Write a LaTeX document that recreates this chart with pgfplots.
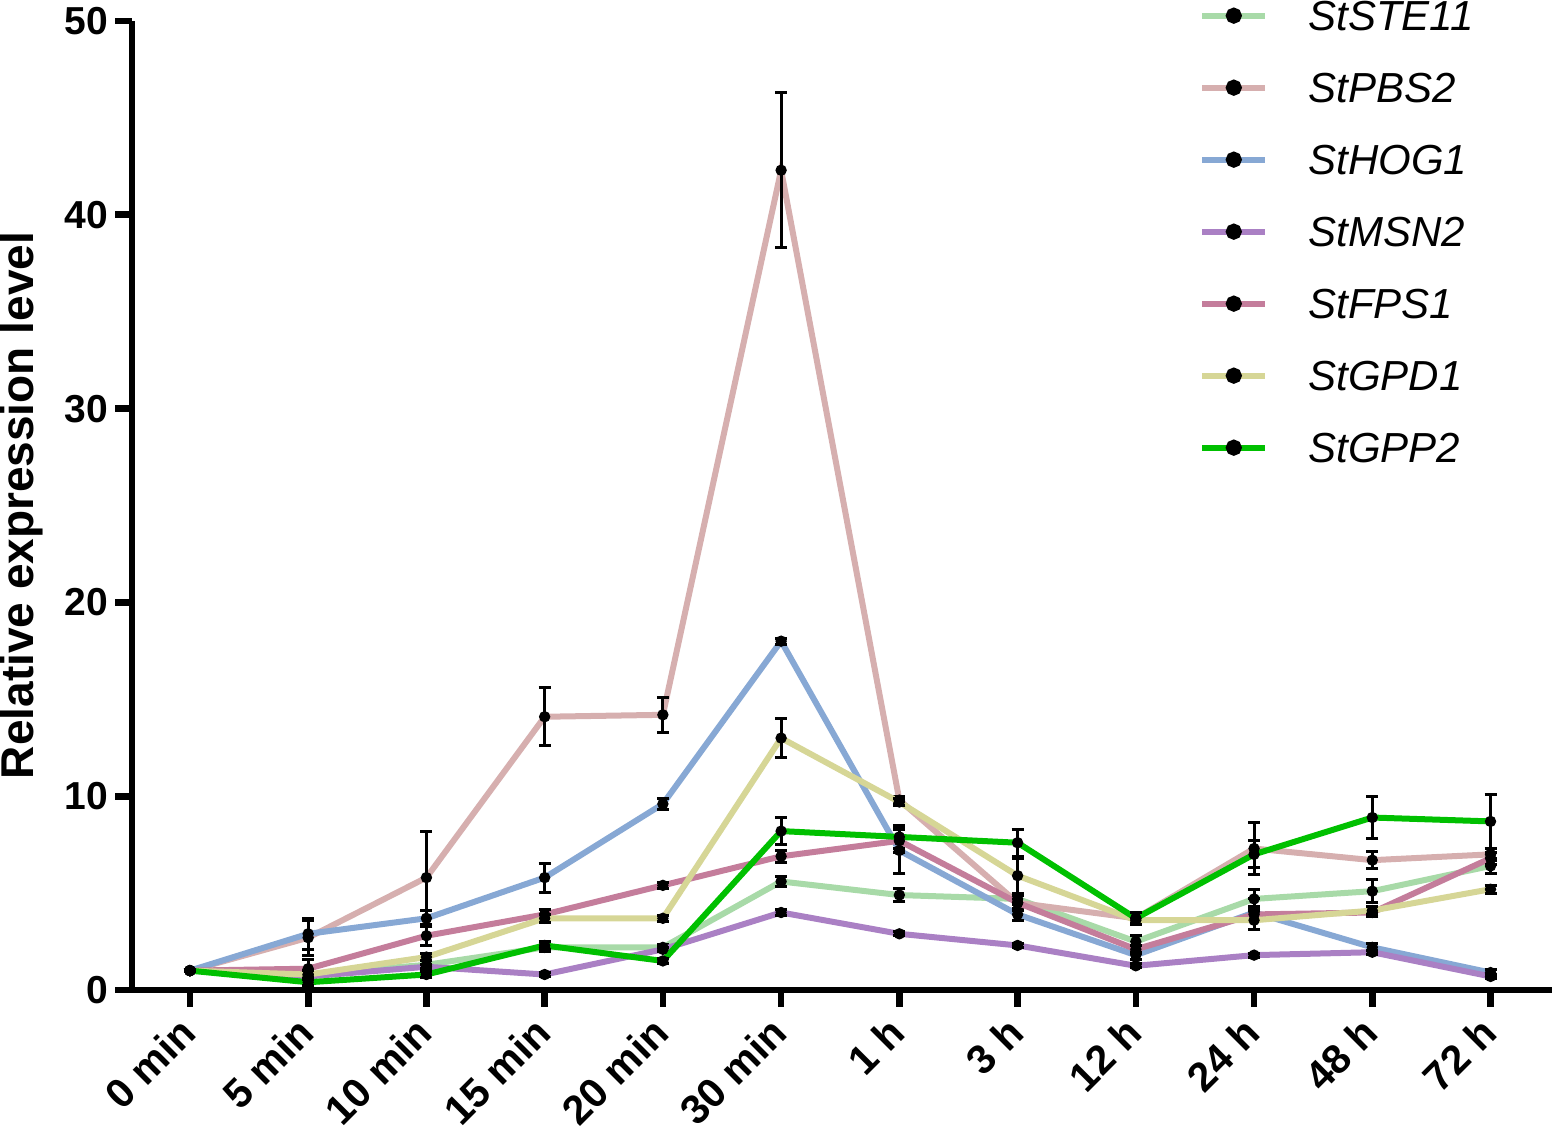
\documentclass[border=0pt]{standalone}
\usepackage{fontspec}
\setmainfont{Liberation Sans}
\usepackage{pgfplots}
\usepackage{pgfplotstable}
\pgfplotsset{compat=1.18}

\definecolor{cSTE}{RGB}{168,218,168}
\definecolor{cPBS}{RGB}{214,175,175}
\definecolor{cHOG}{RGB}{135,168,212}
\definecolor{cMSN}{RGB}{170,128,196}
\definecolor{cFPS}{RGB}{196,125,155}
\definecolor{cGPD}{RGB}{214,214,150}
\definecolor{cGPP}{RGB}{0,192,0}

\pgfplotstableread{
x ste este pbs epbs hog ehog msn emsn fps efps gpd egpd gpp egpp
0 1.0 0.05 1.0 0.05 1.0 0.05 1.0 0.05 1.0 0.05 1.0 0.05 1.0 0.05
1 0.8 0.15 2.7 0.9 2.9 0.8 0.7 0.1 1.1 0.5 0.8 0.2 0.4 0.15
2 1.3 0.2 5.8 2.4 3.7 0.4 1.2 0.1 2.8 0.5 1.7 0.2 0.8 0.15
3 2.2 0.2 14.1 1.5 5.8 0.75 0.8 0.1 3.9 0.25 3.7 0.2 2.3 0.2
4 2.2 0.15 14.2 0.9 9.6 0.3 2.1 0.1 5.4 0.15 3.7 0.15 1.5 0.15
5 5.6 0.25 42.3 4.0 18.0 0.15 4.0 0.15 6.9 0.3 13.0 1.0 8.2 0.7
6 4.9 0.35 9.8 0.2 7.2 1.2 2.9 0.1 7.7 0.6 9.7 0.2 7.9 0.6
7 4.7 0.3 4.5 0.4 3.9 0.3 2.3 0.1 4.5 0.4 5.9 0.9 7.6 0.7
8 2.5 0.3 3.7 0.2 1.8 0.2 1.25 0.1 2.1 0.2 3.6 0.2 3.7 0.3
9 4.7 0.5 7.3 1.35 4.0 0.3 1.8 0.1 3.9 0.8 3.6 0.5 7.0 0.7
10 5.1 0.6 6.7 0.45 2.2 0.2 1.95 0.1 4.0 0.2 4.1 0.2 8.9 1.1
11 6.4 0.4 7.0 0.3 0.9 0.15 0.7 0.1 6.8 0.3 5.2 0.2 8.7 1.4
}\data

\pgfplotsset{
  marksty/.style={forget plot, only marks, mark=*, mark size=1.5pt, black},
  linesty/.style={#1, line width=1.8pt, mark=none},
  errsty/.style={forget plot, draw=none, mark=none,
    error bars/.cd, y dir=both, y explicit,
    error bar style={draw=black, solid, line width=0.9pt},
    error mark options={draw=black, solid, rotate=90, mark size=1.8pt, line width=0.9pt}},
}

\begin{document}
\begin{tikzpicture}
\path[use as bounding box] (-39.6pt,-43.2pt) rectangle (427.5pt,297pt);
\begin{axis}[
  at={(0,0)}, anchor=south west, scale only axis,
  width=426pt, height=290.7pt,
  xmin=-0.49, xmax=11.52, ymin=0, ymax=50,
  axis x line=bottom, axis y line=left,
  axis line style={-, line width=2pt, black},
  tick align=outside, major tick length=5pt,
  tick style={line width=2pt, black},
  xtick={0,...,11},
  xticklabels={0 min,5 min,10 min,15 min,20 min,30 min,1 h,3 h,12 h,24 h,48 h,72 h},
  ytick={0,10,20,30,40,50},
  /pgf/number format/assume math mode=true,
  y tick label style={font=\bfseries\fontsize{11.7}{14}\selectfont, inner sep=2pt},
  x tick label style={font=\bfseries\fontsize{12.3}{15}\selectfont,
    yshift=-5.5pt, xshift=-0.5pt, rotate=45, anchor=east, inner sep=0pt},
  ylabel={Relative expression level},
  ylabel style={at={(axis description cs:-0.0697,0.5)}, anchor=base,
    font=\bfseries\fontsize{13.8}{16}\selectfont},
  legend style={at={(axis description cs:0.751,1.0217)}, anchor=north west,
    draw=none, fill=none, inner sep=0pt, row sep=12.6pt, column sep=12pt,
    font=\itshape\fontsize{12.6}{15}\selectfont,
    nodes={inner sep=0pt, text height=9pt, text depth=0pt}},
  legend cell align=left,
  legend image code/.code={
    \draw[#1, line width=1.8pt] (0pt,0pt) -- (19pt,0pt);
    \fill[black] (9.5pt,0pt) circle (1.5pt);
  },
  clip=false,
]
\addplot[marksty] table[x=x,y=ste]{\data};
\addplot[linesty=cSTE] table[x=x,y=ste]{\data};
\addlegendentry{StSTE11}
\addplot[errsty] table[x=x,y=ste,y error=este]{\data};

\addplot[marksty] table[x=x,y=pbs]{\data};
\addplot[linesty=cPBS] table[x=x,y=pbs]{\data};
\addlegendentry{StPBS2}
\addplot[errsty] table[x=x,y=pbs,y error=epbs]{\data};

\addplot[marksty] table[x=x,y=hog]{\data};
\addplot[linesty=cHOG] table[x=x,y=hog]{\data};
\addlegendentry{StHOG1}
\addplot[errsty] table[x=x,y=hog,y error=ehog]{\data};

\addplot[marksty] table[x=x,y=msn]{\data};
\addplot[linesty=cMSN] table[x=x,y=msn]{\data};
\addlegendentry{StMSN2}
\addplot[errsty] table[x=x,y=msn,y error=emsn]{\data};

\addplot[marksty] table[x=x,y=fps]{\data};
\addplot[linesty=cFPS] table[x=x,y=fps]{\data};
\addlegendentry{StFPS1}
\addplot[errsty] table[x=x,y=fps,y error=efps]{\data};

\addplot[marksty] table[x=x,y=gpd]{\data};
\addplot[linesty=cGPD] table[x=x,y=gpd]{\data};
\addlegendentry{StGPD1}
\addplot[errsty] table[x=x,y=gpd,y error=egpd]{\data};

\addplot[marksty] table[x=x,y=gpp]{\data};
\addplot[linesty=cGPP] table[x=x,y=gpp]{\data};
\addlegendentry{StGPP2}
\addplot[errsty] table[x=x,y=gpp,y error=egpp]{\data};
\end{axis}
\end{tikzpicture}
\end{document}
